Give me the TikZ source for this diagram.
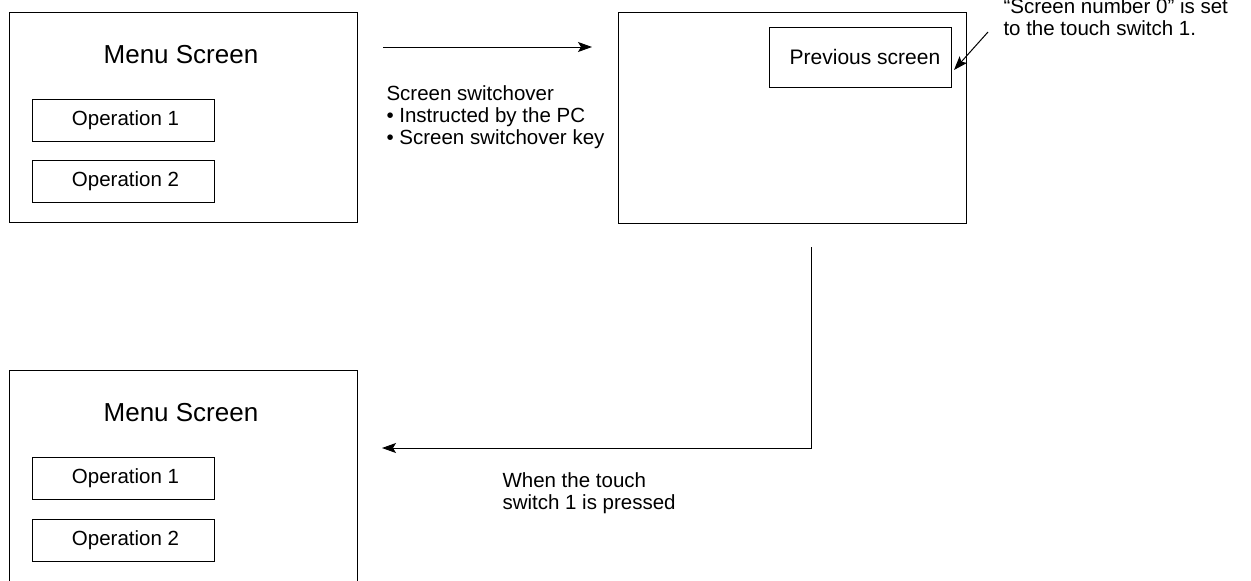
\documentclass[tikz,border=0pt]{standalone}
\usepackage{fontspec}
\setmainfont{Liberation Sans}
\usetikzlibrary{arrows.meta}
\begin{document}
\begin{tikzpicture}[x=1pt,y=-1pt,
  every path/.style={line width=1pt},
  screen/.style={draw,line width=1pt,minimum width=348pt,inner sep=0pt},
  opbox/.style={draw,line width=1pt,minimum width=182pt,minimum height=42pt,inner sep=0pt,font=\fontsize{20.5}{22}\selectfont},
  title/.style={anchor=base,inner sep=0pt,font=\fontsize{26}{28}\selectfont},
  lbl/.style={anchor=base west,inner sep=0pt,align=left,font=\fontsize{20.5}{22}\selectfont},
  arr/.style={-{Stealth[length=14pt,width=10pt,inset=3pt]},line width=1pt}]
\useasboundingbox (0,0) rectangle (1251,581);
% top-left menu screen
\node[screen,minimum height=210pt] (s1) at (183,117) {};
\node[title] (t1) at (181,63) {Menu Screen};
\node[opbox] (o11) at (123.5,120) {\hspace*{4pt}Operation 1};
\node[opbox] (o12) at (123.5,181.5) {\hspace*{4pt}Operation 2};
% right screen
\node[screen,minimum height=211pt] (s2) at (792,117.5) {};
\node[draw,line width=1pt,minimum width=182pt,minimum height=60pt,inner sep=0pt,font=\fontsize{21}{22}\selectfont] (prev) at (860,57) {\hspace*{10pt}Previous screen};
% bottom-left menu screen (cut by page bottom)
\node[screen,minimum height=240pt] (s3) at (183,490) {};
\node[title] (t3) at (181,421) {Menu Screen};
\node[opbox] (o31) at (123.5,478.5) {\hspace*{4pt}Operation 1};
\node[opbox] (o32) at (123.5,540) {\hspace*{4pt}Operation 2};
% connectors
\coordinate (a1) at (383,47);
\coordinate (a2) at (592,47);
\draw[arr] (a1) -- (a2);
\node[lbl] (l1) at (386,144) {Screen switchover\\\textbullet\ Instructed by the PC\\\textbullet\ Screen switchover key};
\coordinate (c1) at (811,247);
\coordinate (c2) at (382,448);
\draw[arr] (c1) |- (c2);
\node[lbl] (l2) at (502,509.5) {When the touch\\switch 1 is pressed};
\coordinate (n1) at (988,32);
\coordinate (n2) at (954,70);
\draw[arr] (n1) -- (n2);
\node[lbl] (l3) at (1003,35) {“Screen number 0” is set\\to the touch switch 1.};
\end{tikzpicture}
\end{document}
